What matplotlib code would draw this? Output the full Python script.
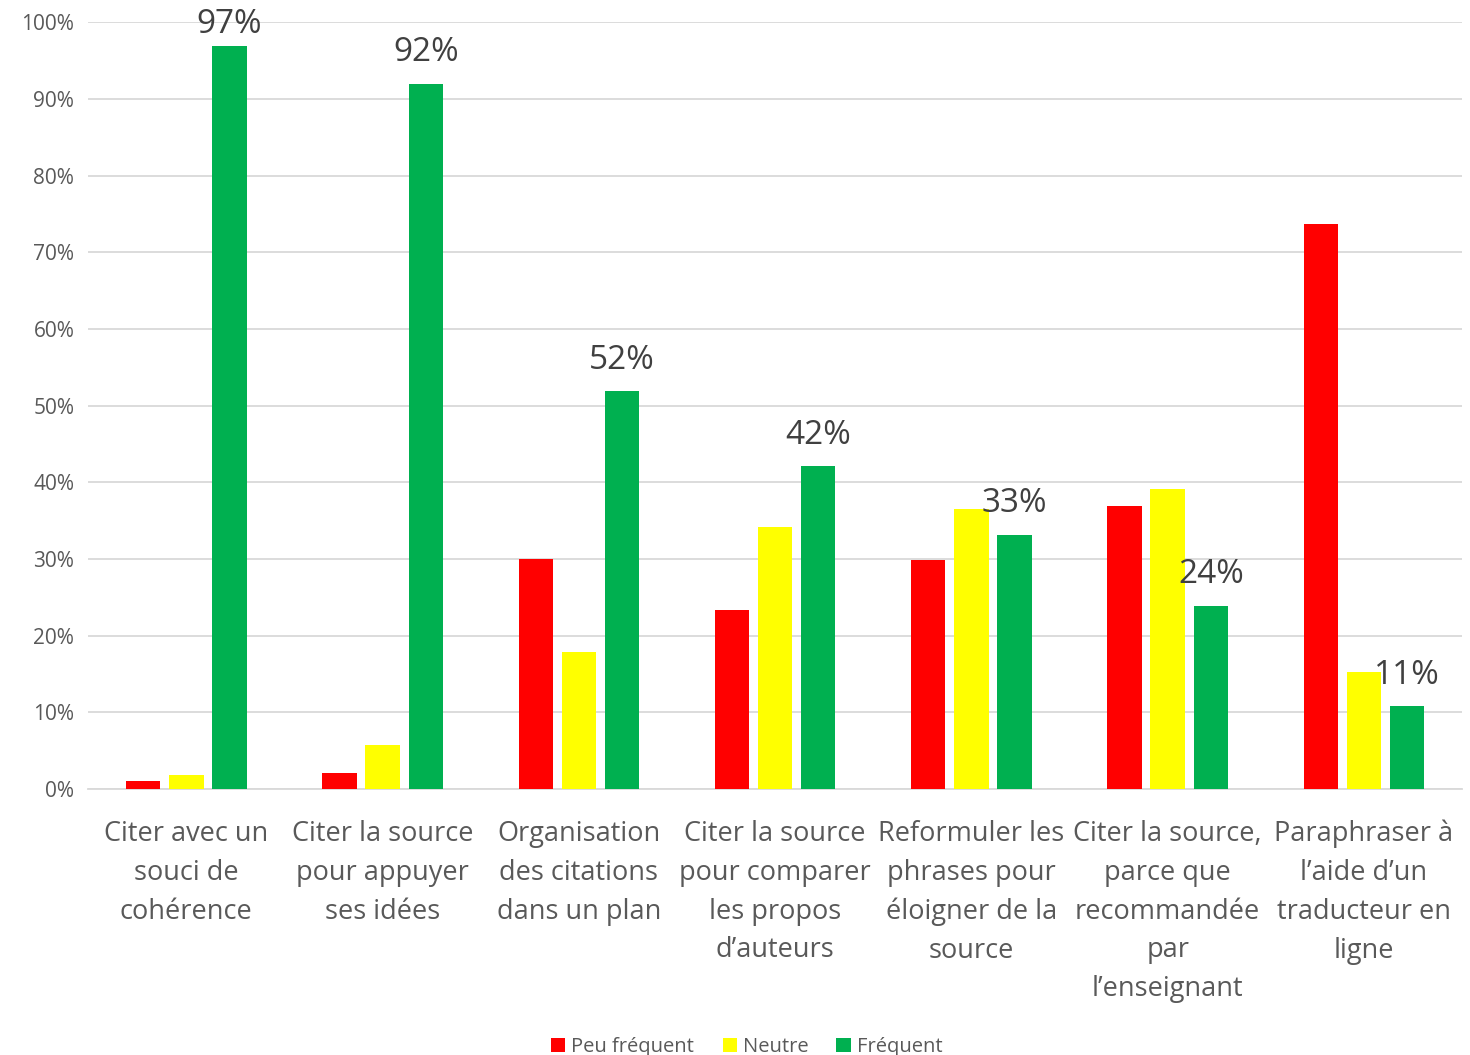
import numpy as np
import matplotlib.pyplot as plt
from matplotlib.ticker import PercentFormatter

plt.rcParams['font.family'] = ['Open Sans', 'DejaVu Sans']

categories = [
    "Citer avec un\nsouci de\ncohérence",
    "Citer la source\npour appuyer\nses idées",
    "Organisation\ndes citations\ndans un plan",
    "Citer la source\npour comparer\nles propos\nd’auteurs",
    "Reformuler les\nphrases pour\néloigner de la\nsource",
    "Citer la source,\nparce que\nrecommandée\npar\nl’enseignant",
    "Paraphraser à\nl’aide d’un\ntraducteur en\nligne",
]
peu_frequent = [1.0, 2.1, 30.0, 23.3, 29.9, 36.9, 73.7]
neutre = [1.8, 5.7, 17.9, 34.2, 36.5, 39.1, 15.3]
frequent = [96.9, 92.0, 51.9, 42.1, 33.2, 23.9, 10.8]
series_names = ["Peu fréquent", "Neutre", "Fréquent"]
colors = ["#FF0000", "#FFFF00", "#00B050"]

fig = plt.figure(figsize=(14.7, 10.55), dpi=100)
ax = fig.add_axes([0.06, 0.252, 0.9346, 0.727])

x = np.arange(len(categories))
w = 0.175
step = 0.22
for i, (vals, name, c) in enumerate(zip([peu_frequent, neutre, frequent], series_names, colors)):
    bars = ax.bar(x + (i - 1) * step, vals, w, color=c, label=name, zorder=3)
    if i == 2:
        for b, v in zip(bars, vals):
            # labels sit above the bar, pushed down near the top of the plot
            ax.text(b.get_x() + b.get_width() / 2, min(v + 1.9, 97.6), "%d%%" % round(v),
                    ha='center', va='bottom', fontsize=24, color='#404040', zorder=4,
                    clip_on=False)

ax.set_xlim(-0.5, len(categories) - 0.5)
ax.set_ylim(0, 100)
ax.set_yticks(range(0, 101, 10))
ax.yaxis.set_major_formatter(PercentFormatter(decimals=0))
ax.grid(axis='y', color='#D9D9D9', linewidth=1.3, zorder=0)
for s in ['top', 'right', 'left']:
    ax.spines[s].set_visible(False)
ax.spines['bottom'].set_color('#D9D9D9')
ax.spines['bottom'].set_linewidth(1.3)
ax.tick_params(axis='y', length=0, labelsize=15, labelcolor='#595959', pad=10)
ax.tick_params(axis='x', length=0, labelsize=19.5, labelcolor='#595959', pad=22)
ax.set_xticks(x)
ax.set_xticklabels(categories, linespacing=1.52)

fig.legend(loc='lower center', ncol=3, frameon=False, fontsize=14.5,
           bbox_to_anchor=(0.508, -0.019), handlelength=0.7, handleheight=0.7,
           handletextpad=0.3, columnspacing=1.4, labelcolor='#595959')

fig.savefig('out.png', dpi=100)
